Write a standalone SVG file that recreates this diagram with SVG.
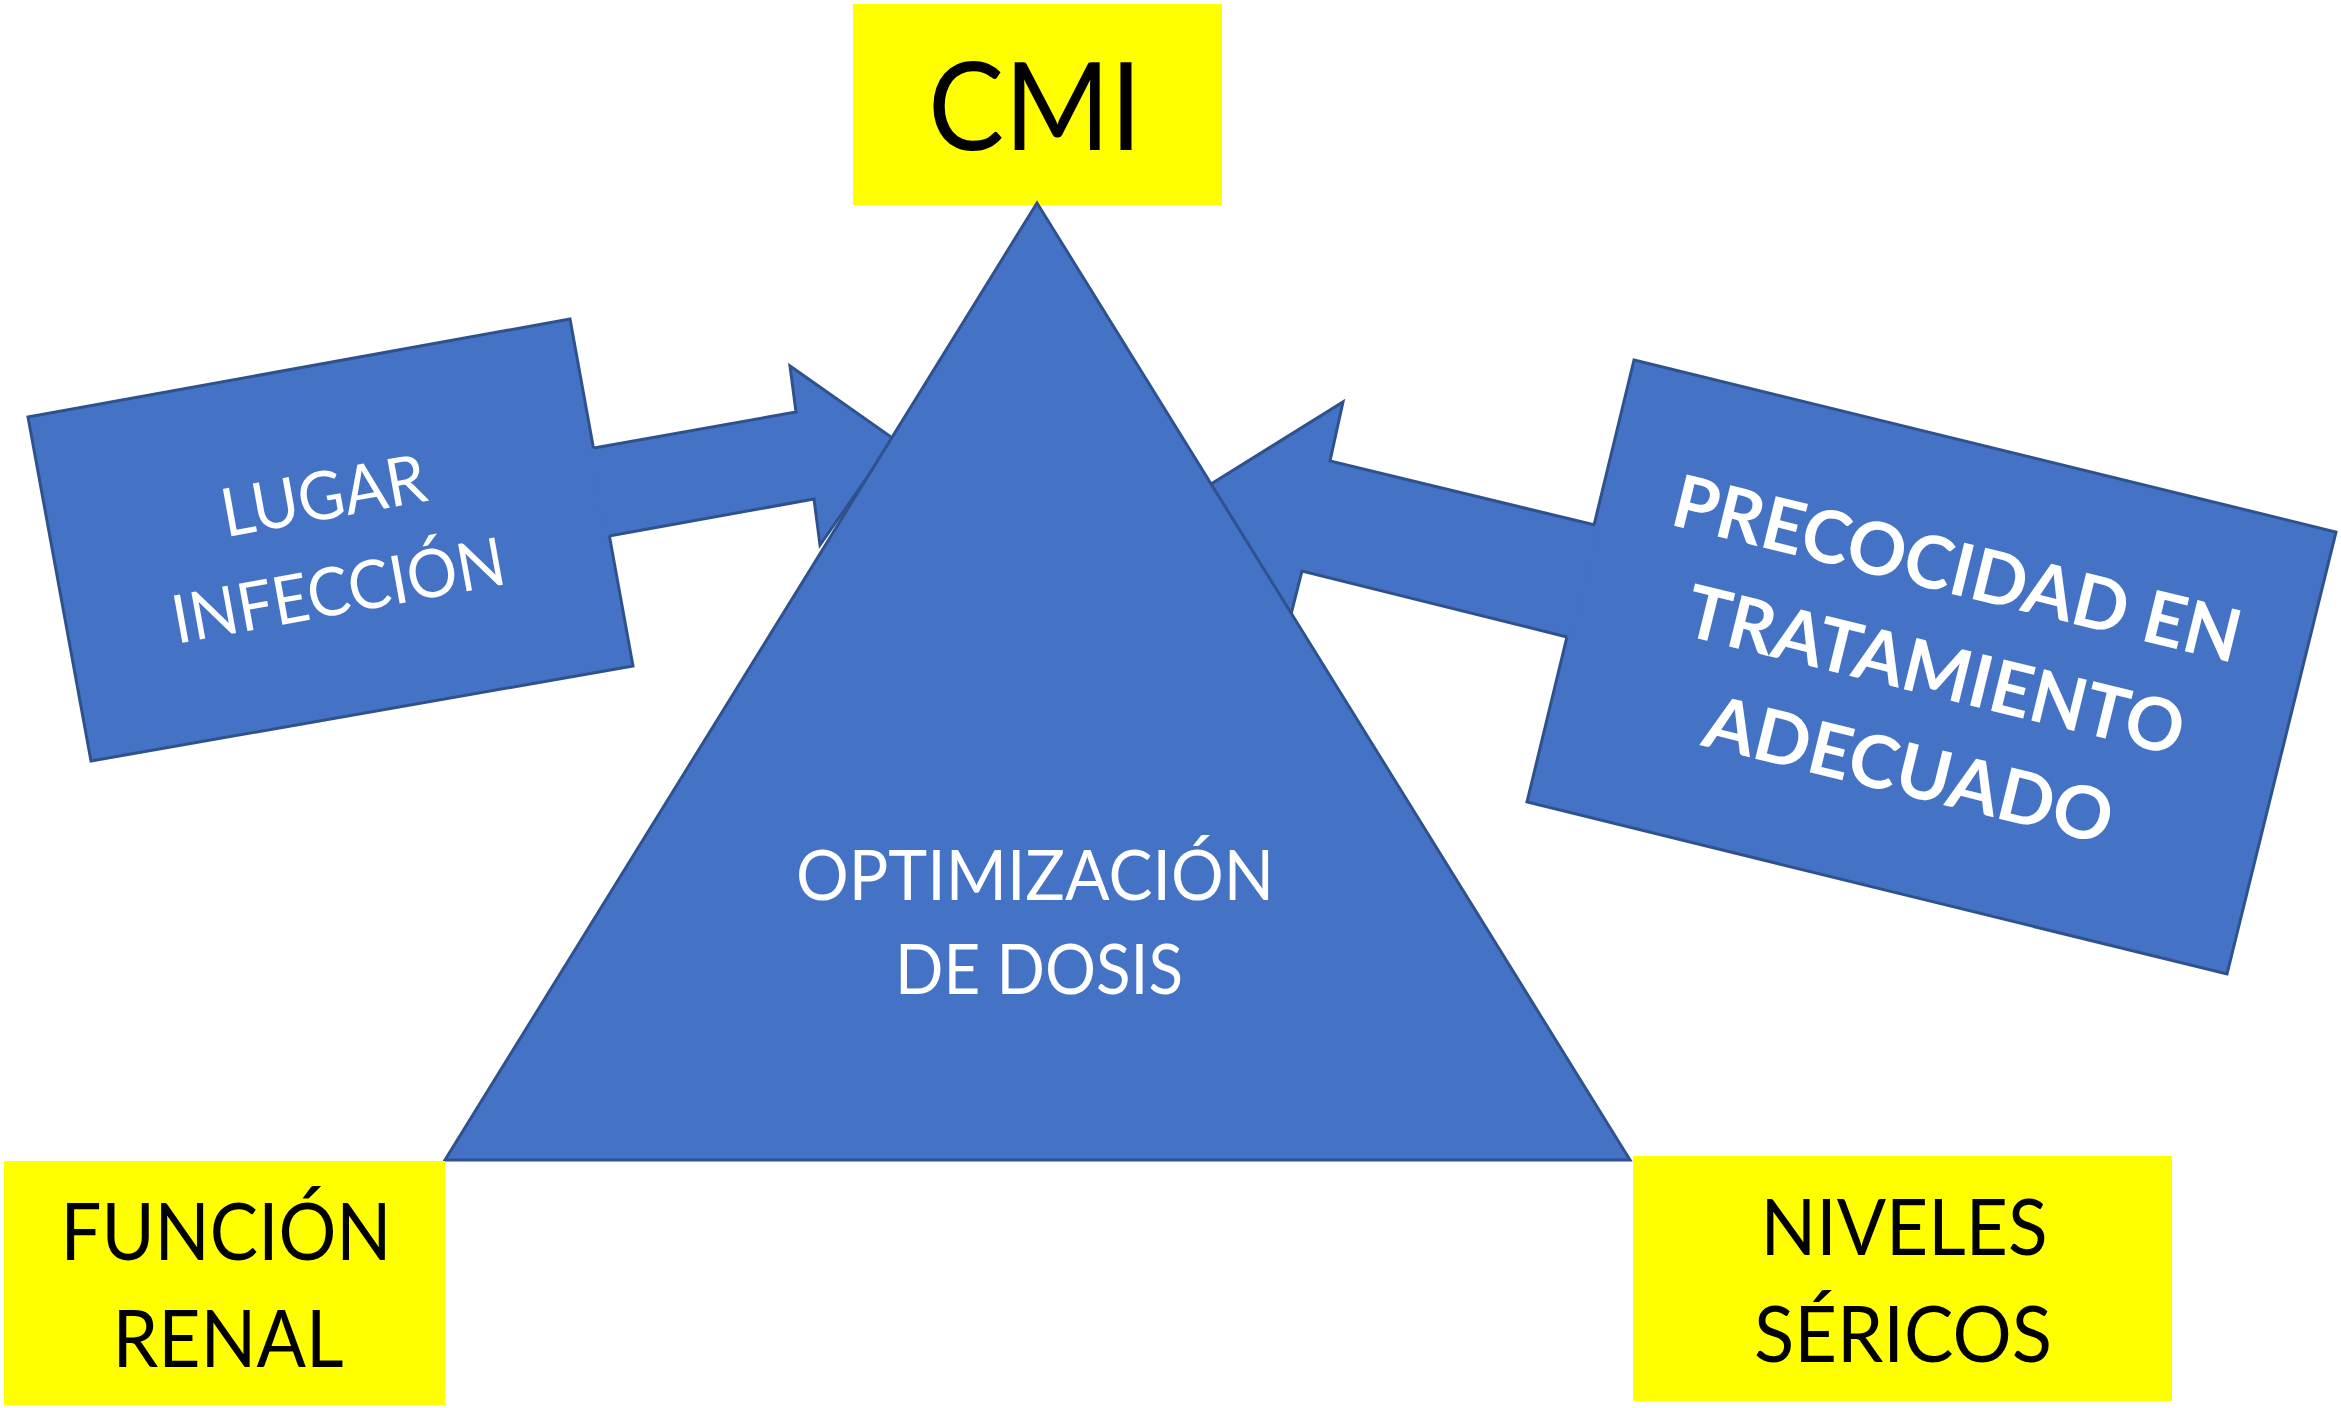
<svg xmlns="http://www.w3.org/2000/svg" width="2341" height="1408" viewBox="0 0 2341 1408">
<style>
.yel{fill:#FFFF00;}
.blue{fill:#4472C4;stroke:#2F528F;stroke-width:3;stroke-linejoin:miter;}
.fillonly{fill:#4472C4;stroke:none;}
.edge{fill:none;stroke:#2F528F;stroke-width:3;stroke-linejoin:miter;}
.blk{font-family:Lato,"Open Sans",sans-serif;fill:#000000;text-anchor:middle;}
.wht{font-family:Lato,"Open Sans",sans-serif;fill:#FFFFFF;text-anchor:middle;}
.bold{font-weight:bold;}
</style>
<rect width="2341" height="1408" fill="#FFFFFF"/>

<g id="node-lugar">
<polygon class="blue" points="28,417 570,319 633,666 91,761"/>
</g>
<g id="node-precocidad">
<polygon class="blue" points="1634,360 2336,532 2227,974 1527,802"/>
</g>

<g id="connectors">
<g id="conn-lugar">
<polygon class="fillonly" points="589,449 796,412 790,366 894,439 820,545 814,499 604,537"/>
<polyline class="edge" points="594,448 796,412 790,366 894,439 820,545 814,499 609,536"/>
</g>
<g id="conn-precocidad">
<polygon class="fillonly" points="1600,526 1330,461 1343,402 1203,489 1287,630 1302,571 1572,638"/>
<polyline class="edge" points="1595,525 1330,461 1343,402 1203,489 1287,630 1302,571 1567,637"/>
</g>
</g>

<g id="label-lugar" transform="translate(330.5,540.75) rotate(-10.25)">
<text class="wht" x="1" y="-22" font-size="67" textLength="207" lengthAdjust="spacingAndGlyphs">LUGAR</text>
<text class="wht" x="-1" y="74" font-size="67" textLength="337" lengthAdjust="spacingAndGlyphs">INFECCIÓN</text>
</g>
<g id="label-precocidad" transform="translate(1931,667) rotate(13.8)">
<text class="wht bold" x="2" y="-76" font-size="73" textLength="582" lengthAdjust="spacingAndGlyphs">PRECOCIDAD EN</text>
<text class="wht bold" x="5" y="28" font-size="73" textLength="510" lengthAdjust="spacingAndGlyphs">TRATAMIENTO</text>
<text class="wht bold" x="3" y="131" font-size="73" textLength="418" lengthAdjust="spacingAndGlyphs">ADECUADO</text>
</g>

<g id="node-cmi">
<rect class="yel" x="853" y="4" width="369" height="201"/>
<text class="blk" x="1035" y="150" font-size="123" textLength="214" lengthAdjust="spacingAndGlyphs">CMI</text>
</g>

<g id="node-optimizacion">
<polygon class="blue" points="1037,203 1630,1160 445,1160"/>
<text class="wht" x="1035" y="900" font-size="70" textLength="478" lengthAdjust="spacingAndGlyphs">OPTIMIZACIÓN</text>
<text class="wht" x="1039" y="994" font-size="70" textLength="288" lengthAdjust="spacingAndGlyphs">DE DOSIS</text>
</g>

<g id="node-funcion">
<rect class="yel" x="4" y="1161" width="441" height="244"/>
<text class="blk" x="226" y="1260" font-size="80" textLength="331" lengthAdjust="spacingAndGlyphs">FUNCIÓN</text>
<text class="blk" x="228" y="1367" font-size="80" textLength="231" lengthAdjust="spacingAndGlyphs">RENAL</text>
</g>

<g id="node-niveles">
<rect class="yel" x="1633" y="1156" width="539" height="245"/>
<text class="blk" x="1904" y="1255" font-size="78" textLength="287" lengthAdjust="spacingAndGlyphs">NIVELES</text>
<text class="blk" x="1903" y="1362" font-size="78" textLength="298" lengthAdjust="spacingAndGlyphs">SÉRICOS</text>
</g>
</svg>
